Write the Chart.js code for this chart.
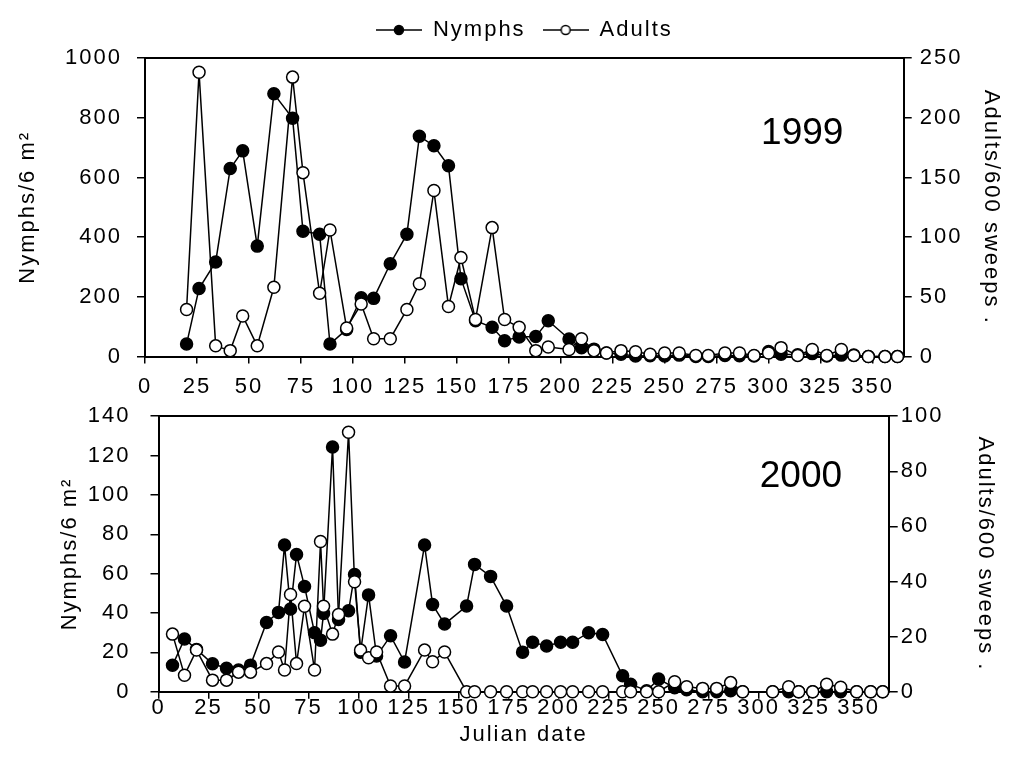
<!DOCTYPE html>
<html>
<head>
<meta charset="utf-8">
<script src="https://cdn.jsdelivr.net/npm/chart.js@4.4.1/dist/chart.umd.min.js"></script>
<style>
  html, body { margin: 0; padding: 0; background: #fff; }
  #wrap { position: relative; width: 1014px; height: 774px; }
  canvas { position: absolute; left: 0; }
  #top { top: 0; }
  #bottom { top: 383px; }
</style>
</head>
<body>
<div id="wrap">
  <canvas id="top" width="1014" height="400"></canvas>
  <canvas id="bottom" width="1014" height="391"></canvas>
</div>
<script>
// ---- values ----
const julianTicks = [0, 25, 50, 75, 100, 125, 150, 175, 200, 225, 250, 275, 300, 325, 350];

// 1999
const days1999 = [20, 26, 34, 41, 47, 54, 62, 71, 76, 84, 89, 97, 104, 110, 118, 126, 132, 139, 146, 152,
  159, 167, 173, 180, 188, 194, 204, 210, 216, 222, 229, 236, 243, 250, 257, 265, 271, 279, 286, 293,
  300, 306, 314, 321, 328, 335, 341, 348, 356, 362];
const nymphs1999 = [42, 228, 317, 630, 689, 370, 880, 798, 420, 410, 42, 91, 197, 195, 311, 410, 738, 706, 639, 261,
  120, 98, 53, 66, 67, 120, 59, 30, 25, 12, 8, 2, 3, 2, 5, 0, 0, 4, 3, 2,
  17, 8, 6, 10, 2, 5, 5, 0, 0, 0];
const adults1999 = [39.5, 238, 9, 5, 34, 9, 58, 234, 154, 53, 106, 24, 44, 15, 15, 39.5, 61, 139, 42, 83,
  31, 108, 31, 24.5, 5, 8, 6, 15, 5, 3, 5, 4, 2, 3, 3, 1, 1, 3, 3, 1,
  3, 7.5, 1, 6, 1, 6, 1, 0, 0, 0];
const nymphTicks1999 = [0, 200, 400, 600, 800, 1000];
const adultTicks1999 = [0, 50, 100, 150, 200, 250];

// 2000
const days2000 = [7, 13, 19, 27, 34, 40, 46, 54, 60, 63, 66, 69, 73, 78, 81, 82.5, 87, 90, 95, 98,
  101, 105, 109, 116, 123, 133, 137, 143, 154, 158, 166, 174, 182, 187, 194, 201, 207, 215, 222, 232,
  236, 244, 250, 258, 264, 272, 279, 286, 292, 307, 315, 320, 327, 334, 341, 349, 356, 362];
const nymphs2000 = [13.4, 26.8, 21.5, 14.2, 11.9, 11, 13.5, 35.2, 40.3, 74.5, 42, 69.7, 53.5, 30, 26.2, 39.8, 124.4, 36.7, 41.1, 59.6,
  20.1, 49.2, 18.1, 28.4, 15.1, 74.5, 44.3, 34.4, 43.5, 64.7, 58.6, 43.5, 20.1, 25.1, 23.2, 25.1, 25.1, 30, 29.1, 8.1,
  3.8, 0.5, 6.4, 2, 1, 0, 0, 0.5, 0, 0, 0, 0, 0, 0, 0, 0, 0, 0];
const adults2000 = [20.9, 6, 15.1, 4.2, 4.2, 7.1, 7.1, 10.2, 14.4, 7.9, 35.3, 10.2, 31, 7.9, 54.5, 31, 20.9, 28, 94.2, 39.9,
  15.1, 12.3, 14.4, 2.1, 2.1, 15.1, 10.9, 14.4, 0, 0, 0, 0, 0, 0, 0, 0, 0, 0, 0, 0,
  0, 0, 0, 3.6, 1.8, 1.2, 1.2, 3.3, 0, 0, 1.8, 0, 0, 2.7, 1.6, 0, 0, 0];
const nymphTicks2000 = [0, 20, 40, 60, 80, 100, 120, 140];
const adultTicks2000 = [0, 20, 40, 60, 80, 100];

// ---- styling ----
const FONT = "'Liberation Sans', Arial, sans-serif";
Chart.defaults.font.family = FONT;
Chart.defaults.font.size = 22;
Chart.defaults.color = '#000';

// the figure's text is set a bit wider than plain Arial
const letterSpacing = {
  id: 'letterSpacing',
  beforeUpdate(chart) { chart.ctx.letterSpacing = '2px'; },
  beforeDraw(chart) { chart.ctx.letterSpacing = '2px'; }
};

const yearLabel = {
  id: 'yearLabel',
  afterDatasetsDraw(chart, args, opts) {
    const { ctx, scales } = chart;
    ctx.save();
    ctx.letterSpacing = '0px';
    ctx.font = '37px ' + FONT;
    ctx.fillStyle = '#000';
    ctx.textAlign = 'right';
    ctx.textBaseline = 'alphabetic';
    ctx.fillText(opts.text, scales.x.getPixelForValue(opts.day), scales.y.getPixelForValue(opts.value));
    ctx.restore();
  }
};

function legendMarker(filled) {
  const c = document.createElement('canvas');
  c.width = 46; c.height = 14;
  const g = c.getContext('2d');
  g.strokeStyle = '#000';
  g.lineWidth = 1.5;
  g.beginPath(); g.moveTo(0, 7); g.lineTo(46, 7); g.stroke();
  g.beginPath(); g.arc(23, 7, 4.5, 0, Math.PI * 2);
  g.fillStyle = filled ? '#000' : '#fff';
  g.fill(); g.stroke();
  return c;
}
const markers = [legendMarker(true), legendMarker(false)];

function series(label, days, values, axis, filled, order) {
  return {
    label: label,
    xAxisID: 'x',
    yAxisID: axis,
    order: order,
    data: days.map((d, i) => ({ x: d, y: values[i] })),
    borderColor: '#000',
    borderWidth: 1.5,
    pointRadius: 6,
    pointBorderWidth: 1.5,
    pointBackgroundColor: filled ? '#000' : '#fff',
    pointBorderColor: '#000',
    tension: 0,
    clip: false
  };
}

function fixedTicks(list) {
  return s => { s.ticks = list.map(v => ({ value: v })); };
}

const plainLabel = v => String(v);

function axisLine() {
  return { color: '#000', width: 2 };
}

function marks(len) {
  return { drawOnChartArea: false, color: '#000', lineWidth: 1.5, tickLength: len };
}

function buildChart(id, opt) {
  return new Chart(document.getElementById(id), {
    type: 'line',
    data: {
      datasets: [
        series('Nymphs', opt.days, opt.nymphs, 'y', true, 1),
        series('Adults', opt.days, opt.adults, 'y1', false, 0)
      ]
    },
    options: {
      responsive: false,
      animation: false,
      events: [],
      devicePixelRatio: 1,
      layout: { padding: opt.padding },
      plugins: {
        legend: opt.legend,
        tooltip: { enabled: false },
        yearLabel: opt.year
      },
      scales: {
        x: {
          type: 'linear', position: 'bottom', min: 0, max: 365,
          afterBuildTicks: fixedTicks(julianTicks),
          afterFit: s => { s.height = opt.xHeight; },
          border: axisLine(),
          grid: marks(7),
          ticks: { padding: opt.xPad, maxRotation: 0, autoSkip: false, callback: plainLabel },
          title: opt.xTitle
        },
        xTop: {
          type: 'linear', position: 'top', min: 0, max: 365,
          afterFit: s => { s.height = opt.topGap; },
          border: axisLine(),
          grid: { display: false, drawTicks: false },
          ticks: { display: false }
        },
        y: {
          position: 'left', min: opt.nymphTicks[0], max: opt.nymphTicks[opt.nymphTicks.length - 1],
          afterBuildTicks: fixedTicks(opt.nymphTicks),
          afterFit: s => { s.width = opt.yWidth; },
          border: axisLine(),
          grid: marks(8),
          ticks: { padding: opt.yPad, autoSkip: false, callback: plainLabel },
          title: { display: true, text: 'Nymphs/6 m²', padding: { top: opt.yTitlePad, bottom: 0 } }
        },
        y1: {
          position: 'right', min: opt.adultTicks[0], max: opt.adultTicks[opt.adultTicks.length - 1],
          afterBuildTicks: fixedTicks(opt.adultTicks),
          afterFit: s => { s.width = opt.y1Width; },
          border: axisLine(),
          grid: marks(opt.y1Tick),
          ticks: { padding: opt.y1Pad, autoSkip: false, callback: plainLabel },
          title: { display: true, text: 'Adults/600 sweeps .', padding: { top: opt.y1TitlePad, bottom: 0 } }
        }
      }
    },
    plugins: [letterSpacing, yearLabel]
  });
}

// 1999 panel with the shared legend
buildChart('top', {
  days: days1999, nymphs: nymphs1999, adults: adults1999,
  nymphTicks: nymphTicks1999, adultTicks: adultTicks1999,
  padding: { left: 14, right: 8, top: 2, bottom: 0 },
  legend: {
    display: true,
    position: 'top',
    fullSize: false,
    labels: {
      usePointStyle: true,
      pointStyleWidth: 46,
      padding: 17,
      font: { size: 22 },
      generateLabels: chart => chart.data.datasets.map((ds, i) => ({
        text: ds.label, pointStyle: markers[i], datasetIndex: i,
        fillStyle: '#000', strokeStyle: '#000', lineWidth: 0, hidden: false
      }))
    }
  },
  topGap: 7,
  year: { text: '1999', day: 336, value: 712 },
  xHeight: 43.4, xPad: 10, xTitle: { display: false },
  yWidth: 131, yPad: 15, yTitlePad: 1,
  y1Width: 102.3, y1Tick: 8, y1Pad: 8, y1TitlePad: 2
});

// 2000 panel with the x-axis title
buildChart('bottom', {
  days: days2000, nymphs: nymphs2000, adults: adults2000,
  nymphTicks: nymphTicks2000, adultTicks: adultTicks2000,
  padding: { left: 14, right: 8, top: 0, bottom: 0 },
  legend: { display: false },
  topGap: 0,
  year: { text: '2000', day: 341.7, value: 104 },
  xHeight: 82.3, xPad: -4,
  xTitle: { display: true, text: 'Julian date', padding: { top: 0, bottom: 25.8 } },
  yWidth: 144.5, yPad: 20, yTitlePad: 42.8,
  y1Width: 117.3, y1Tick: 9, y1Pad: 3, y1TitlePad: 7.8
});
</script>
</body>
</html>
